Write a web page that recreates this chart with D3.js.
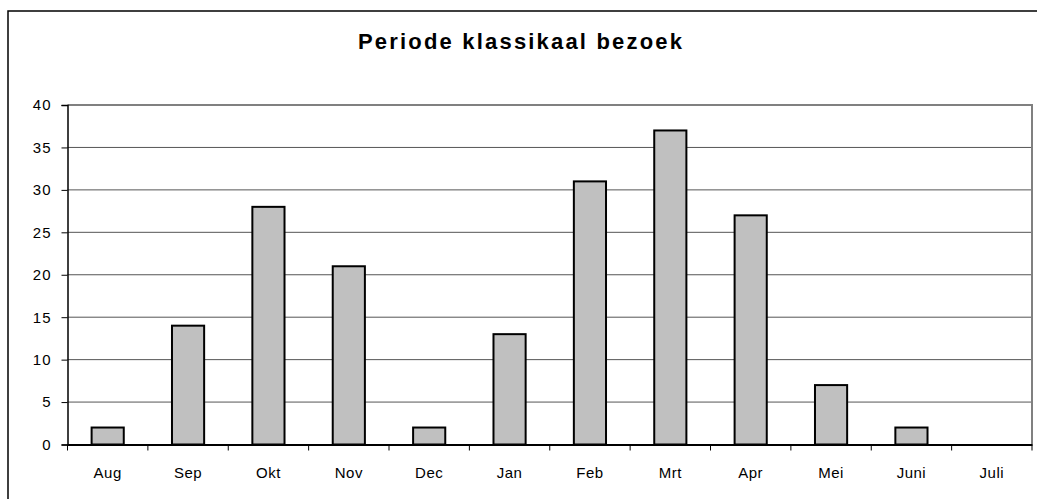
<!DOCTYPE html>
<html><head><meta charset="utf-8">
<script src="https://cdn.jsdelivr.net/npm/d3@7"></script>
<style>body{margin:0;background:#fff}svg{display:block}</style>
</head><body>
<script>
const categories = ["Aug","Sep","Okt","Nov","Dec","Jan","Feb","Mrt","Apr","Mei","Juni","Juli"];
const values = [2,14,28,21,2,13,31,37,27,7,2,0];
const yTicks = [0,5,10,15,20,25,30,35,40];
const title = "Periode klassikaal bezoek";

const W = 1037, H = 499;
const FONT = "Arial, 'Liberation Sans', sans-serif";
const svg = d3.select("body").append("svg").attr("width", W).attr("height", H);
svg.append("rect").attr("width", W).attr("height", H).attr("fill", "#fff");
// outer frame
svg.append("rect").attr("x", 8).attr("y", 11).attr("width", 1040).attr("height", 500)
  .attr("fill", "none").attr("stroke", "#000").attr("stroke-width", 1.5);

const L = 67.5, R = 1032, T = 105, B = 444.5;
const x = d3.scaleBand().domain(categories).range([L, R]).paddingInner(0.6).paddingOuter(0.3);
const xEdge = d3.scaleBand().domain(categories).range([L, R]);
const y = d3.scaleLinear().domain([0, 40]).range([B, T]);

// gridlines
svg.append("g").selectAll("line").data(yTicks.filter(d => d > 0 && d < 40)).join("line")
  .attr("x1", L).attr("x2", R).attr("y1", d => y(d)).attr("y2", d => y(d))
  .attr("stroke", "#555").attr("stroke-width", 1);
// plot top and right border
svg.append("line").attr("x1", L).attr("x2", R + 1).attr("y1", T).attr("y2", T)
  .attr("stroke", "#808080").attr("stroke-width", 2);
svg.append("line").attr("x1", R).attr("x2", R).attr("y1", T).attr("y2", B)
  .attr("stroke", "#808080").attr("stroke-width", 2);

// bars
svg.append("g").selectAll("rect").data(values).join("rect")
  .attr("x", (d, i) => x(categories[i]))
  .attr("y", d => y(d))
  .attr("width", x.bandwidth())
  .attr("height", d => B - y(d))
  .attr("fill", d => d > 0 ? "#c0c0c0" : "none")
  .attr("stroke", d => d > 0 ? "#000" : "none")
  .attr("stroke-width", 2);

// y axis
const yAxis = d3.axisLeft(y).tickValues(yTicks).tickSize(6).tickPadding(10);
const gy = svg.append("g").attr("transform", `translate(${L},0)`).call(yAxis);
gy.select(".domain").attr("stroke", "#000").attr("stroke-width", 1.5);
gy.selectAll(".tick line").attr("stroke", "#000");
gy.selectAll("text").attr("font-family", FONT)
  .attr("font-size", 15).attr("letter-spacing", 1).attr("fill", "#000");

// x axis
const xAxis = d3.axisBottom(xEdge).tickSize(0).tickPadding(22.5);
const gx = svg.append("g").attr("transform", `translate(0,${B})`).call(xAxis);
gx.select(".domain").attr("stroke", "#000").attr("stroke-width", 2);
gx.selectAll("text").attr("font-family", FONT)
  .attr("font-size", 15).attr("letter-spacing", 0.5).attr("fill", "#000");
// category separator ticks
gx.append("g").selectAll("line").data(categories.concat(["end"])).join("line")
  .attr("x1", (d, i) => i < categories.length ? xEdge(d) : R)
  .attr("x2", (d, i) => i < categories.length ? xEdge(d) : R)
  .attr("y1", 0).attr("y2", 6).attr("stroke", "#000").attr("stroke-width", 1);

// title
svg.append("text").attr("x", 520).attr("y", 49).attr("text-anchor", "middle")
  .attr("font-family", FONT).attr("font-weight", "bold")
  .attr("font-size", 22).attr("textLength", 324).attr("lengthAdjust", "spacing")
  .attr("fill", "#000").text(title);
</script>
</body></html>
